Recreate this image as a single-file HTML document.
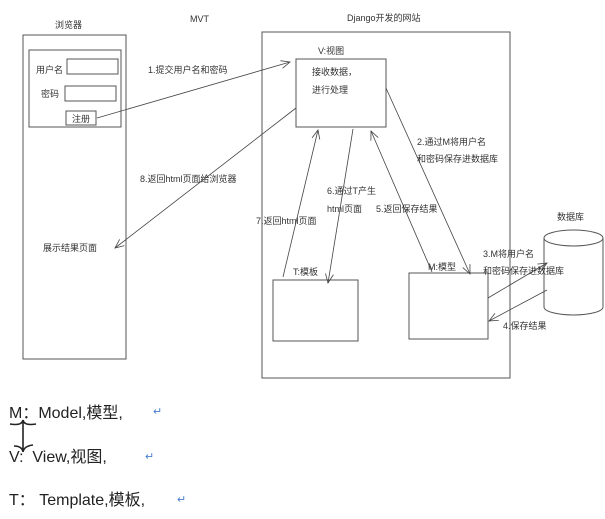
<!DOCTYPE html>
<html><head><meta charset="utf-8"><style>
html,body{margin:0;padding:0;background:#fff;}
svg{display:block;}
text{font-family:"Liberation Sans","Noto Sans CJK SC",sans-serif;fill:#333;}
.s{font-size:9px;}
.b{font-size:16px;fill:#222;}
</style></head><body>
<svg width="605" height="519" viewBox="0 0 605 519" xmlns="http://www.w3.org/2000/svg">
<defs><marker id="a" markerWidth="10" markerHeight="10" refX="9" refY="5" orient="auto" markerUnits="userSpaceOnUse"><path d="M0,1 L9,5 L0,9" fill="none" stroke="#444" stroke-width="0.8"/></marker></defs>
<g fill="none" stroke="#555" stroke-width="1">
<rect x="23" y="35" width="103" height="324"/>
<rect x="29" y="50" width="92" height="77"/>
<rect x="67" y="59" width="51" height="15"/>
<rect x="65" y="86" width="51" height="15"/>
<rect x="66" y="111" width="30" height="14"/>
<rect x="262" y="32" width="248" height="346"/>
<rect x="296" y="59" width="90" height="68"/>
<rect x="273" y="280" width="85" height="61"/>
<rect x="409" y="273" width="79" height="66"/>
<path d="M544,238 L544,307 M603,238 L603,307"/>
<ellipse cx="573.5" cy="238" rx="29.5" ry="8"/>
<path d="M544,307 A29.5,8 0 0 0 603,307"/>
</g>
<g fill="none" stroke="#444" stroke-width="0.8" marker-end="url(#a)">
<line x1="97" y1="118" x2="290" y2="62"/>
<line x1="296" y1="108" x2="115" y2="248"/>
<line x1="283" y1="277" x2="318" y2="130"/>
<line x1="353" y1="129" x2="328" y2="283"/>
<line x1="432" y1="272" x2="371" y2="131"/>
<line x1="386" y1="88" x2="470" y2="274"/>
<line x1="488" y1="298" x2="547" y2="263"/>
<line x1="547" y1="290" x2="489" y2="321"/>
</g>
<text class="s" x="55" y="28">浏览器</text>
<text class="s" x="190" y="22">MVT</text>
<text class="s" x="347" y="21">Django开发的网站</text>
<text class="s" x="36" y="73">用户名</text>
<text class="s" x="41" y="97">密码</text>
<text class="s" x="72" y="122">注册</text>
<text class="s" x="148" y="73">1.提交用户名和密码</text>
<text class="s" x="140" y="182">8.返回html页面给浏览器</text>
<text class="s" x="43" y="251">展示结果页面</text>
<text class="s" x="318" y="54">V:视图</text>
<text class="s" x="312" y="75">接收数据，</text>
<text class="s" x="312" y="93">进行处理</text>
<text class="s" x="417" y="145">2.通过M将用户名</text>
<text class="s" x="417" y="162">和密码保存进数据库</text>
<text class="s" x="327" y="194">6.通过T产生</text>
<text class="s" x="327" y="212">html页面</text>
<text class="s" x="376" y="212">5.返回保存结果</text>
<text class="s" x="256" y="224">7.返回html页面</text>
<text class="s" x="293" y="275">T:模板</text>
<text class="s" x="428" y="270">M:模型</text>
<text class="s" x="557" y="220">数据库</text>
<text class="s" x="483" y="257">3.M将用户名</text>
<text class="s" x="483" y="274">和密码保存进数据库</text>
<text class="s" x="503" y="329">4.保存结果</text>
<text class="b" x="9" y="418">M：Model,模型,</text>
<text class="b" x="9" y="462">V:&#160;&#160;View,视图,</text>
<text class="b" x="9" y="505">T：&#160;Template,模板,</text>
<path d="M10,424 Q22,426 23,420 M23,420 Q24,426 36,424 M23,420 L23,452 M23,452 Q22,446 14,446 M23,452 Q24,446 33,445" fill="none" stroke="#222" stroke-width="1.6"/>
<text x="153" y="415" style="font-size:11px;fill:#4a7fd0">↵</text>
<text x="145" y="460" style="font-size:11px;fill:#4a7fd0">↵</text>
<text x="177" y="503" style="font-size:11px;fill:#4a7fd0">↵</text>
</svg>
</body></html>
